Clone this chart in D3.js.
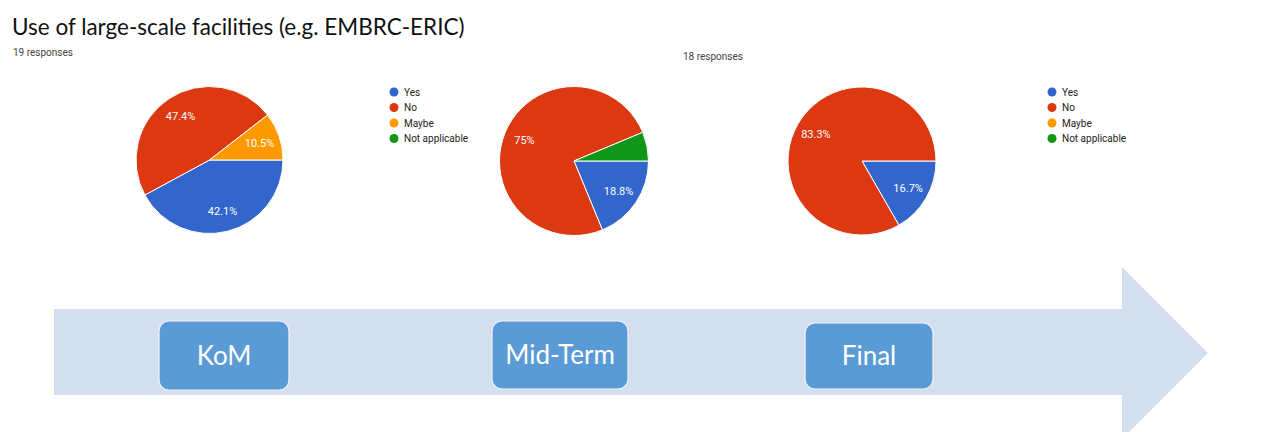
<!DOCTYPE html>
<html>
<head>
<meta charset="utf-8">
<script src="https://cdn.jsdelivr.net/npm/d3@7"></script>
<style>
  body { margin: 0; background: #fff; }
  svg { display: block; }
</style>
</head>
<body>
<div id="chart"></div>
<script>
// survey answers, in percent
const categories = ["Yes", "No", "Maybe", "Not applicable"];
const komValues = [42.1, 47.4, 10.5, 0];
const midTermValues = [18.8, 75, 0, 6.3];
const finalValues = [16.7, 83.3, 0, 0];
const stages = ["KoM", "Mid-Term", "Final"];
const responseCounts = [19, 18];

const width = 1285;
const height = 432;

const svg = d3.select("#chart")
  .append("svg")
  .attr("width", width)
  .attr("height", height);

const color = d3.scaleOrdinal()
  .domain(categories)
  .range(["#3366cc", "#dc3912", "#ff9900", "#109618"]);

// title
svg.append("text")
  .attr("x", 12)
  .attr("y", 35)
  .style("font-family", "Lato, 'Open Sans', sans-serif")
  .style("font-size", "22.5px")
  .style("fill", "#111")
  .text("Use of large-scale facilities (e.g. EMBRC-ERIC)");

// response counts
const respPos = [[13, 56], [683, 60]];
svg.selectAll(".resp")
  .data(responseCounts)
  .enter().append("text")
  .attr("class", "resp")
  .attr("x", (d, i) => respPos[i][0])
  .attr("y", (d, i) => respPos[i][1])
  .style("font-family", "Roboto, Arial, sans-serif")
  .style("font-size", "10px")
  .style("fill", "#444")
  .text(d => d + " responses");

// timeline arrow
const arrow = d3.path();
arrow.moveTo(54, 309);
arrow.lineTo(1122, 309);
arrow.lineTo(1122, 267);
arrow.lineTo(1208, 353);
arrow.lineTo(1122, 439);
arrow.lineTo(1122, 395);
arrow.lineTo(54, 395);
arrow.closePath();
svg.append("path")
  .attr("d", arrow.toString())
  .attr("fill", "#d3dfef");

const boxes = [
  { x: 159, y: 321, w: 130, h: 69 },
  { x: 492, y: 321, w: 136, h: 68 },
  { x: 805, y: 323, w: 128, h: 66 }
];

const stageG = svg.selectAll(".stage")
  .data(stages)
  .enter().append("g")
  .attr("class", "stage");

stageG.append("rect")
  .attr("x", (d, i) => boxes[i].x)
  .attr("y", (d, i) => boxes[i].y)
  .attr("width", (d, i) => boxes[i].w)
  .attr("height", (d, i) => boxes[i].h)
  .attr("rx", 10)
  .attr("fill", "#5b9bd5")
  .attr("stroke", "#eef3fa")
  .attr("stroke-width", 1.2);

stageG.append("text")
  .attr("x", (d, i) => boxes[i].x + boxes[i].w / 2)
  .attr("y", (d, i) => boxes[i].y + boxes[i].h / 2)
  .attr("dy", ".35em")
  .style("text-anchor", "middle")
  .style("font-family", "Lato, 'Open Sans', sans-serif")
  .style("font-size", "26px")
  .style("fill", "#fff")
  .text(d => d);

// pies
const pies = [
  { values: komValues, cx: 209.5, cy: 160, r: 73.5, legend: [394, 92] },
  { values: midTermValues, cx: 574, cy: 161, r: 74.5, legend: null },
  { values: finalValues, cx: 862, cy: 161, r: 74, legend: [1052, 92] }
];

const pie = d3.pie()
  .sort(null)
  .value(d => d.value)
  .startAngle(Math.PI / 2)
  .endAngle(Math.PI / 2 + 2 * Math.PI);

pies.forEach(p => {
  const data = categories.map((c, i) => ({ name: c, value: p.values[i] }));
  const g = svg.append("g")
    .attr("transform", `translate(${p.cx},${p.cy})`);

  const arc = d3.arc().outerRadius(p.r).innerRadius(0);
  const labelArc = d3.arc().outerRadius(p.r * 0.72).innerRadius(p.r * 0.72);

  const arcs = g.selectAll(".arc")
    .data(pie(data).filter(d => d.data.value > 0))
    .enter().append("g")
    .attr("class", "arc");

  arcs.append("path")
    .attr("d", arc)
    .attr("fill", d => color(d.data.name))
    .attr("stroke", "#fff")
    .attr("stroke-width", 1);

  arcs.filter(d => d.data.value >= 7)
    .append("text")
    .attr("transform", d => `translate(${labelArc.centroid(d)})`)
    .attr("dy", ".35em")
    .style("text-anchor", "middle")
    .style("font-family", "Roboto, Arial, sans-serif")
    .style("font-size", "11px")
    .style("fill", "#fff")
    .text(d => d.data.value + "%");

  if (p.legend) {
    const legend = svg.selectAll(null)
      .data(categories)
      .enter().append("g")
      .attr("transform", (d, i) => `translate(${p.legend[0]},${p.legend[1] + i * 15.5})`);

    legend.append("circle")
      .attr("r", 4.5)
      .attr("fill", d => color(d));

    legend.append("text")
      .attr("x", 10)
      .attr("dy", ".35em")
      .style("font-family", "Roboto, Arial, sans-serif")
      .style("font-size", "10px")
      .style("fill", "#222")
      .text(d => d);
  }
});
</script>
</body>
</html>
